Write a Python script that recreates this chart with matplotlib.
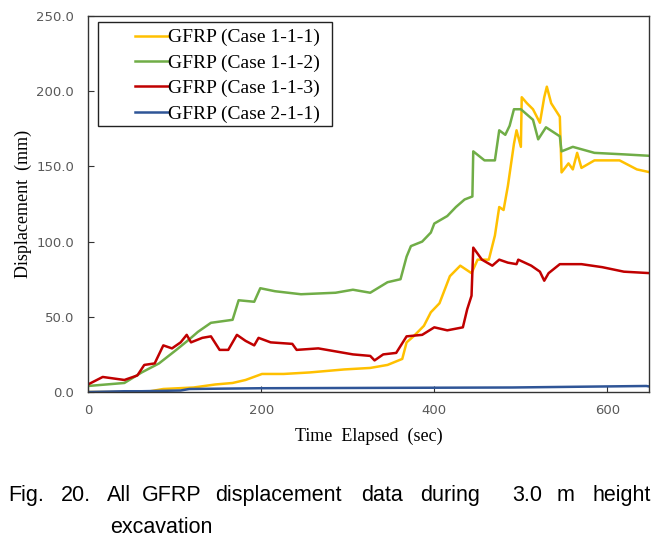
import matplotlib
matplotlib.use('Agg')
import matplotlib.pyplot as plt
from matplotlib.patches import Rectangle

# Case 1-1-1 (yellow)
t_111 = [0, 67, 87, 122, 147, 167, 182, 201, 226, 256, 296, 326, 346, 363, 368, 376, 388, 396,
         406, 418, 430, 443, 450, 463, 470, 475, 480, 485, 492, 495, 500, 501, 507, 514, 522,
         527, 530, 535, 545, 547, 555, 560, 565, 570, 585, 614, 634, 650]
d_111 = [0, 0, 2, 3, 5, 6, 8, 12, 12, 13, 15, 16, 18, 22, 33, 37, 44, 53,
         59, 77, 84, 79, 88, 88, 104, 123, 121, 137, 165, 174, 163, 196, 192, 188, 179,
         196, 203, 192, 183, 146, 152, 148, 159, 149, 154, 154, 148, 146]

# Case 1-1-2 (green)
t_112 = [0, 42, 62, 82, 102, 117, 127, 142, 167, 174, 192, 199, 216, 246, 286, 306, 326, 346,
         361, 368, 373, 386, 396, 400, 415, 425, 435, 444, 445, 458, 470, 475, 482, 487, 492,
         500, 514, 520, 529, 545, 547, 560, 585, 619, 650]
d_112 = [4, 6, 13, 19, 28, 35, 40, 46, 48, 61, 60, 69, 67, 65, 66, 68, 66, 73,
         75, 90, 97, 100, 106, 112, 117, 123, 128, 130, 160, 154, 154, 174, 171, 177, 188,
         188, 181, 168, 176, 170, 160, 163, 159, 158, 157]

# Case 1-1-3 (red)
t_113 = [0, 17, 42, 57, 65, 77, 87, 97, 107, 114, 119, 132, 142, 152, 162, 172, 182, 192, 197,
         211, 236, 241, 266, 286, 306, 326, 331, 341, 356, 368, 386, 400, 415, 433, 438, 443,
         445, 455, 467, 475, 485, 495, 497, 512, 522, 527, 532, 545, 570, 594, 619, 650]
d_113 = [5, 10, 8, 11, 18, 19, 31, 29, 33, 38, 33, 36, 37, 28, 28, 38, 34, 31, 36,
         33, 32, 28, 29, 27, 25, 24, 21, 25, 26, 37, 38, 43, 41, 43, 55, 64,
         96, 88, 84, 88, 86, 85, 88, 84, 80, 74, 79, 85, 85, 83, 80, 79]

# Case 2-1-1 (blue)
t_211 = [0, 42, 62, 107, 117, 199, 490, 645, 650]
d_211 = [0, 0.5, 0.5, 1, 2, 2.5, 3, 4, 3.5]

labels = ['GFRP (Case 1-1-1)', 'GFRP (Case 1-1-2)', 'GFRP (Case 1-1-3)', 'GFRP (Case 2-1-1)']
colors = ['#ffc000', '#70ad47', '#c00000', '#2f5597']

x_ticks = [0, 200, 400, 600]
y_ticks = [0, 50, 100, 150, 200, 250]

caption_words = ['Fig.', '20.', 'All', 'GFRP', 'displacement', 'data', 'during', '3.0', 'm', 'height']
caption_x = [8, 61, 107, 142, 215, 361, 420, 512, 557, 593]

W, H = 672, 544
fig = plt.figure(figsize=(6.72, 5.44), dpi=100)
ax = fig.add_axes([88 / W, 1 - 392 / H, 561 / W, 376 / H])

series = [(t_111, d_111), (t_112, d_112), (t_113, d_113), (t_211, d_211)]
for (t, d), lab, c in zip(series, labels, colors):
    ax.plot(t, d, color=c, lw=1.8, label=lab)

ax.set_xlim(0, 648)
ax.set_ylim(0, 250)
ax.set_xticks(x_ticks)
ax.set_yticks(y_ticks)
ax.set_yticklabels([f'{v:.1f}' for v in y_ticks])
ax.tick_params(direction='in', length=4, labelsize=9.5, labelcolor='#595959', color='#333333')
ax.tick_params(axis='y', pad=10)
ax.tick_params(axis='x', pad=9)
for s in ax.spines.values():
    s.set_color('#333333')
    s.set_linewidth(1.0)

ax.set_xlabel('Time  Elapsed  (sec)', family='Liberation Serif', fontsize=13, labelpad=7)
ax.set_ylabel('Displacement  (mm)', family='Liberation Serif', fontsize=13, labelpad=3)

# legend box drawn separately so it can be wider than the entries
ax.add_patch(Rectangle((10 / 561, 1 - 110 / 376), 234 / 561, 104 / 376, transform=ax.transAxes,
                       facecolor='white', edgecolor='#222222', lw=1.0, zorder=5))
leg = ax.legend(loc='upper left', bbox_to_anchor=(37 / 561, 1 - 3 / 376),
                prop={'family': 'Liberation Serif', 'size': 14},
                handlelength=1.7, handletextpad=0.0, borderpad=0.0, labelspacing=0.4,
                frameon=False)
leg.set_zorder(6)

# caption, justified first line
for w, x in zip(caption_words, caption_x):
    fig.text(x / W, 1 - 501 / H, w, fontsize=15.5, family='Liberation Sans', va='baseline', ha='left')
fig.text(110 / W, 1 - 533 / H, 'excavation', fontsize=15.5, family='Liberation Sans', va='baseline', ha='left')

fig.savefig('out.png', dpi=100)
